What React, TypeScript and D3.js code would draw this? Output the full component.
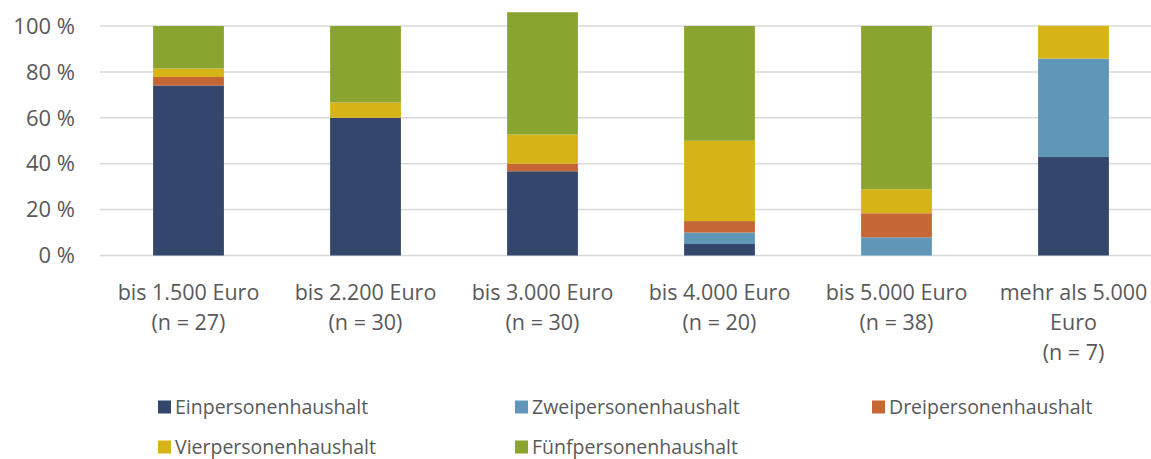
import React, { useEffect, useRef } from 'react';
import * as d3 from 'd3';

const categories = [
  ['bis 1.500 Euro', '(n = 27)'],
  ['bis 2.200 Euro', '(n = 30)'],
  ['bis 3.000 Euro', '(n = 30)'],
  ['bis 4.000 Euro', '(n = 20)'],
  ['bis 5.000 Euro', '(n = 38)'],
  ['mehr als 5.000', 'Euro', '(n = 7)'],
];

const seriesNames = [
  'Einpersonenhaushalt',
  'Zweipersonenhaushalt',
  'Dreipersonenhaushalt',
  'Vierpersonenhaushalt',
  'Fünfpersonenhaushalt',
];

// percent per income group, one array per household size
const einPersonen = [74.1, 60, 36.7, 5, 0, 42.9];
const zweiPersonen = [0, 0, 0, 5, 7.9, 42.9];
const dreiPersonen = [3.7, 0, 3.3, 5, 10.5, 0];
const vierPersonen = [3.7, 6.7, 12.7, 35, 10.5, 14.3];
const fuenfPersonen = [18.5, 33.3, 53.3, 50, 71.1, 0];

const yTicks = [0, 20, 40, 60, 80, 100];
const colors = ['#34466b', '#6097b9', '#c56734', '#d6b316', '#8aa52f'];

const W = 1151;
const H = 459;

const App = () => {
  const ref = useRef<SVGSVGElement>(null);

  useEffect(() => {
    const svg = d3.select(ref.current);
    svg.selectAll('*').remove();

    const font = '"Open Sans", "Noto Sans", sans-serif';
    const textColor = '#595959';

    const x = d3.scaleBand()
      .domain(d3.range(categories.length).map(String))
      .range([100, 1162])
      .paddingInner(0.6)
      .paddingOuter(0.3);

    const y = d3.scaleLinear().domain([0, 100]).range([255.5, 26]);

    // gridlines
    svg.append('g')
      .selectAll('line')
      .data(yTicks)
      .enter()
      .append('line')
      .attr('x1', 100)
      .attr('x2', W)
      .attr('y1', d => y(d))
      .attr('y2', d => y(d))
      .attr('stroke', '#d9d9d9')
      .attr('stroke-width', 1.5);

    svg.append('g')
      .selectAll('text')
      .data(yTicks)
      .enter()
      .append('text')
      .attr('x', 75)
      .attr('y', d => y(d))
      .attr('dy', '0.35em')
      .attr('text-anchor', 'end')
      .attr('font-family', font)
      .attr('font-size', 22)
      .attr('fill', textColor)
      .text(d => `${d} %`);

    const rows = categories.map((_, i) => ({
      key: String(i),
      s0: einPersonen[i],
      s1: zweiPersonen[i],
      s2: dreiPersonen[i],
      s3: vierPersonen[i],
      s4: fuenfPersonen[i],
    }));
    const stack = d3.stack<any>().keys(['s0', 's1', 's2', 's3', 's4'])(rows);

    svg.append('g')
      .selectAll('g')
      .data(stack)
      .enter()
      .append('g')
      .attr('fill', (_, i) => colors[i])
      .selectAll('rect')
      .data(d => d.filter(p => p[1] - p[0] > 0))
      .enter()
      .append('rect')
      .attr('x', d => x(d.data.key)!)
      .attr('width', x.bandwidth())
      .attr('y', d => y(d[1]))
      .attr('height', d => y(d[0]) - y(d[1]));

    // category labels
    const lab = svg.append('g')
      .selectAll('text')
      .data(categories)
      .enter()
      .append('text')
      .attr('x', (_, i) => x(String(i))! + x.bandwidth() / 2)
      .attr('y', 300)
      .attr('text-anchor', 'middle')
      .attr('font-family', font)
      .attr('font-size', 21.5)
      .attr('fill', textColor);
    lab.selectAll('tspan')
      .data(d => d)
      .enter()
      .append('tspan')
      .attr('x', function () {
        return (this as any).parentNode.getAttribute('x');
      })
      .attr('dy', (_, j) => (j === 0 ? 0 : 30))
      .text(d => d);

    // legend
    const legend = svg.append('g')
      .selectAll('g')
      .data(seriesNames)
      .enter()
      .append('g')
      .attr('transform', (_, i) => `translate(${158 + (i % 3) * 357},${407 + Math.floor(i / 3) * 40})`);
    legend.append('rect')
      .attr('x', 0)
      .attr('y', -6.5)
      .attr('width', 13)
      .attr('height', 13)
      .attr('fill', (_, i) => colors[i]);
    legend.append('text')
      .attr('x', 17)
      .attr('y', 0)
      .attr('dy', '0.35em')
      .attr('font-family', font)
      .attr('font-size', 19.5)
      .attr('fill', textColor)
      .text(d => d);
  }, []);

  return (
    <svg ref={ref} width={W} height={H} style={{ position: 'absolute', left: 0, top: 0, background: '#fff' }} />
  );
};

export default App;
